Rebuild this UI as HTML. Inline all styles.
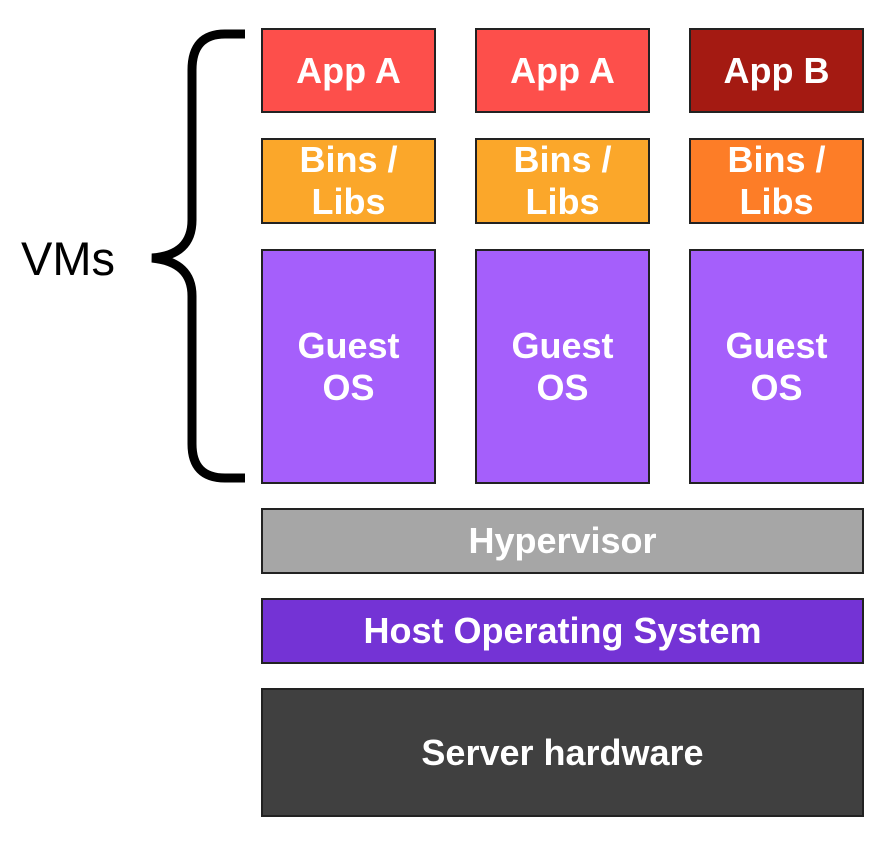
<!DOCTYPE html>
<html><head><style>
body{margin:0;width:892px;height:842px;background:#fff;position:relative;font-family:"Liberation Sans",Arial,sans-serif;overflow:hidden}
.b{position:absolute;box-sizing:border-box;border:2px solid #222;color:#fff;font-weight:bold;display:flex;align-items:center;justify-content:center;text-align:center;font-size:36px;line-height:42px}
</style></head><body>
<div class="b" style="left:261px;top:28px;width:175px;height:85px;background:#fd4f4b">App A</div>
<div class="b" style="left:475px;top:28px;width:175px;height:85px;background:#fd4f4b">App A</div>
<div class="b" style="left:689px;top:28px;width:175px;height:85px;background:#a41a12">App B</div>
<div class="b" style="left:261px;top:138px;width:175px;height:86px;background:#fba72a">Bins /<br>Libs</div>
<div class="b" style="left:475px;top:138px;width:175px;height:86px;background:#fba72a">Bins /<br>Libs</div>
<div class="b" style="left:689px;top:138px;width:175px;height:86px;background:#fd7d27">Bins /<br>Libs</div>
<div class="b" style="left:261px;top:249px;width:175px;height:235px;background:#a55ffb">Guest<br>OS</div>
<div class="b" style="left:475px;top:249px;width:175px;height:235px;background:#a55ffb">Guest<br>OS</div>
<div class="b" style="left:689px;top:249px;width:175px;height:235px;background:#a55ffb">Guest<br>OS</div>
<div class="b" style="left:261px;top:508px;width:603px;height:66px;background:#a6a6a6">Hypervisor</div>
<div class="b" style="left:261px;top:598px;width:603px;height:66px;background:#7433d5">Host Operating System</div>
<div class="b" style="left:261px;top:688px;width:603px;height:129px;background:#404040">Server hardware</div>
<div style="position:absolute;left:21px;top:231px;font-size:47px;color:#000">VMs</div>
<svg style="position:absolute;left:0;top:0" width="892" height="842">
<path d="M245 34 H225 Q192 34 192 70 V220 Q192 255 152 258 Q192 262 192 296 V444 Q192 478 225 478 H245" fill="none" stroke="#000" stroke-width="9"/>
</svg>
</body></html>
